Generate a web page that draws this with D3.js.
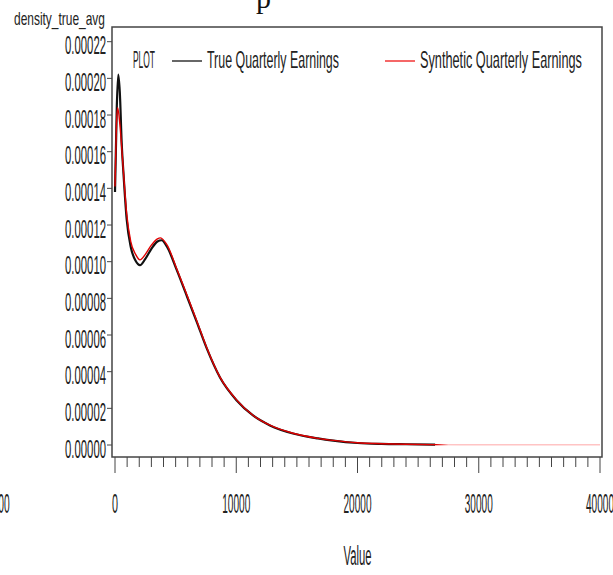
<!DOCTYPE html>
<html>
<head>
<meta charset="utf-8">
<script src="https://cdn.jsdelivr.net/npm/d3@7"></script>
<style>
  body { margin: 0; background: #fff; }
  text { font-family: "Liberation Sans", Arial, sans-serif; fill: #222; }
</style>
</head>
<body>
<div id="chart"></div>
<script>
// chart data
var trueValue = [0, 150, 270, 400, 550, 700, 965, 1300, 1700, 2060, 2500, 3000, 3500, 3850, 4300,
    5090, 5910, 6740, 7560, 8660, 10040, 11380, 12780, 14680, 16740, 18000, 20000, 22000, 24000, 26400];
var trueDensity = [0.000138, 0.000185, 0.000202, 0.000192, 0.000165, 0.000148, 0.000123, 0.000108, 0.0001005,
    0.0000981, 0.0001015, 0.000107, 0.000111, 0.0001117, 0.000108, 0.0000955, 0.0000815, 0.0000672,
    0.0000528, 0.0000368, 0.0000243, 0.0000161, 0.0000107, 0.0000063, 0.0000036, 0.0000024,
    0.0000011, 0.0000006, 0.0000004, 0.0000002];

var synthValue = [0, 120, 220, 400, 600, 965, 1300, 1700, 2060, 2500, 3000, 3500, 3750, 4300,
    5090, 5910, 6740, 7560, 8660, 10040, 11380, 12780, 14680, 16740, 18000, 20000, 22000, 26000,
    30000, 35000, 40000];
var synthDensity = [0.000141, 0.000175, 0.000184, 0.000175, 0.000158, 0.000126, 0.000111, 0.000104,
    0.000101, 0.000104, 0.000109, 0.0001125, 0.000113, 0.000109, 0.0000962, 0.0000822, 0.0000678,
    0.0000532, 0.0000370, 0.0000245, 0.0000162, 0.0000108, 0.0000064, 0.0000036, 0.0000025,
    0.0000012, 0.0000007, 0.0000002, 0.0000001, 0.0000001, 0.0000001];

var yTicks = [0, 0.00002, 0.00004, 0.00006, 0.00008, 0.00010, 0.00012, 0.00014, 0.00016, 0.00018, 0.00020, 0.00022];
var xMajorTicks = [-10000, 0, 10000, 20000, 30000, 40000];
var seriesNames = ["True Quarterly Earnings", "Synthetic Quarterly Earnings"];

// svg setup
var svgWidth = 613;
var svgHeight = 575;

var svg = d3.select("#chart")
    .append("svg")
    .attr("width", svgWidth)
    .attr("height", svgHeight);

var xScale = d3.scaleLinear().domain([0, 40000]).range([115, 600]);
var yScale = d3.scaleLinear().domain([0, 0.00022]).range([445, 41.7]);

// squeezed text like the SAS hardware font: draw, measure, then scale x to the wanted width
function narrowText(x, y, str, size, width, anchor) {
    var t = svg.append("text")
        .attr("font-size", size)
        .attr("text-anchor", anchor || "start")
        .text(str);
    var sx = width / t.node().getComputedTextLength();
    t.attr("transform", `translate(${x}, ${y}) scale(${sx}, 1)`);
    return t;
}

// cropped title at the very top
svg.append("text")
    .attr("x", 256)
    .attr("y", 8)
    .attr("font-size", 30)
    .style("font-family", "'Liberation Serif', serif")
    .style("fill", "#111")
    .text("p");

// frame
svg.append("rect")
    .attr("x", 112)
    .attr("y", 27)
    .attr("width", 490)
    .attr("height", 430)
    .attr("fill", "none")
    .attr("stroke", "#444")
    .attr("stroke-width", 1.5);

// y axis ticks and labels
svg.selectAll(".ytick")
    .data(yTicks)
    .enter()
    .append("line")
    .attr("class", "ytick")
    .attr("x1", 107)
    .attr("x2", 112)
    .attr("y1", d => yScale(d))
    .attr("y2", d => yScale(d))
    .attr("stroke", "#444");

yTicks.forEach(function(d) {
    narrowText(106, yScale(d) + 12.5, d.toFixed(5), 25, 41, "end");
});

narrowText(14, 25, "density_true_avg", 19, 91);

// x axis ticks
var minorTicks = d3.range(0, 40001, 1000);
svg.selectAll(".xtick")
    .data(minorTicks)
    .enter()
    .append("line")
    .attr("class", "xtick")
    .attr("x1", d => xScale(d))
    .attr("x2", d => xScale(d))
    .attr("y1", 457)
    .attr("y2", d => d % 10000 === 0 ? 473 : 467)
    .attr("stroke", "#444");

xMajorTicks.forEach(function(d) {
    narrowText(xScale(d), 513, String(d), 28, d < 0 ? 32 : (d === 0 ? 6 : 28), "middle");
});

narrowText(357.5, 565, "Value", 27, 28, "middle");

// legend
narrowText(133, 68, "PLOT", 23, 22);
svg.append("line")
    .attr("x1", 172).attr("x2", 202)
    .attr("y1", 61).attr("y2", 61)
    .attr("stroke", "#000").attr("stroke-width", 1.2);
narrowText(207, 68, seriesNames[0], 23, 132);
svg.append("line")
    .attr("x1", 385).attr("x2", 415)
    .attr("y1", 61).attr("y2", 61)
    .attr("stroke", "#e00").attr("stroke-width", 1.2);
narrowText(420, 68, seriesNames[1], 23, 162);

// red fades to pink out in the long tail
var grad = svg.append("defs").append("linearGradient")
    .attr("id", "redTail")
    .attr("gradientUnits", "userSpaceOnUse")
    .attr("x1", xScale(0)).attr("x2", xScale(40000))
    .attr("y1", 0).attr("y2", 0);
grad.append("stop").attr("offset", 26500 / 40000).attr("stop-color", "#e00000");
grad.append("stop").attr("offset", 27500 / 40000).attr("stop-color", "#ffc4c4");
grad.append("stop").attr("offset", 1).attr("stop-color", "#ffc4c4");

var line = d3.line()
    .x(d => xScale(d[0]))
    .y(d => yScale(d[1]))
    .curve(d3.curveMonotoneX);

var trueData = trueValue.map((v, i) => [v, trueDensity[i]]);
var synthData = synthValue.map((v, i) => [v, synthDensity[i]]);

svg.append("path")
    .datum(trueData)
    .attr("d", line)
    .attr("fill", "none")
    .attr("stroke", "#111")
    .attr("stroke-width", 2.2);

svg.append("path")
    .datum(synthData)
    .attr("d", line)
    .attr("fill", "none")
    .attr("stroke", "url(#redTail)")
    .attr("stroke-width", 1.4);
</script>
</body>
</html>
